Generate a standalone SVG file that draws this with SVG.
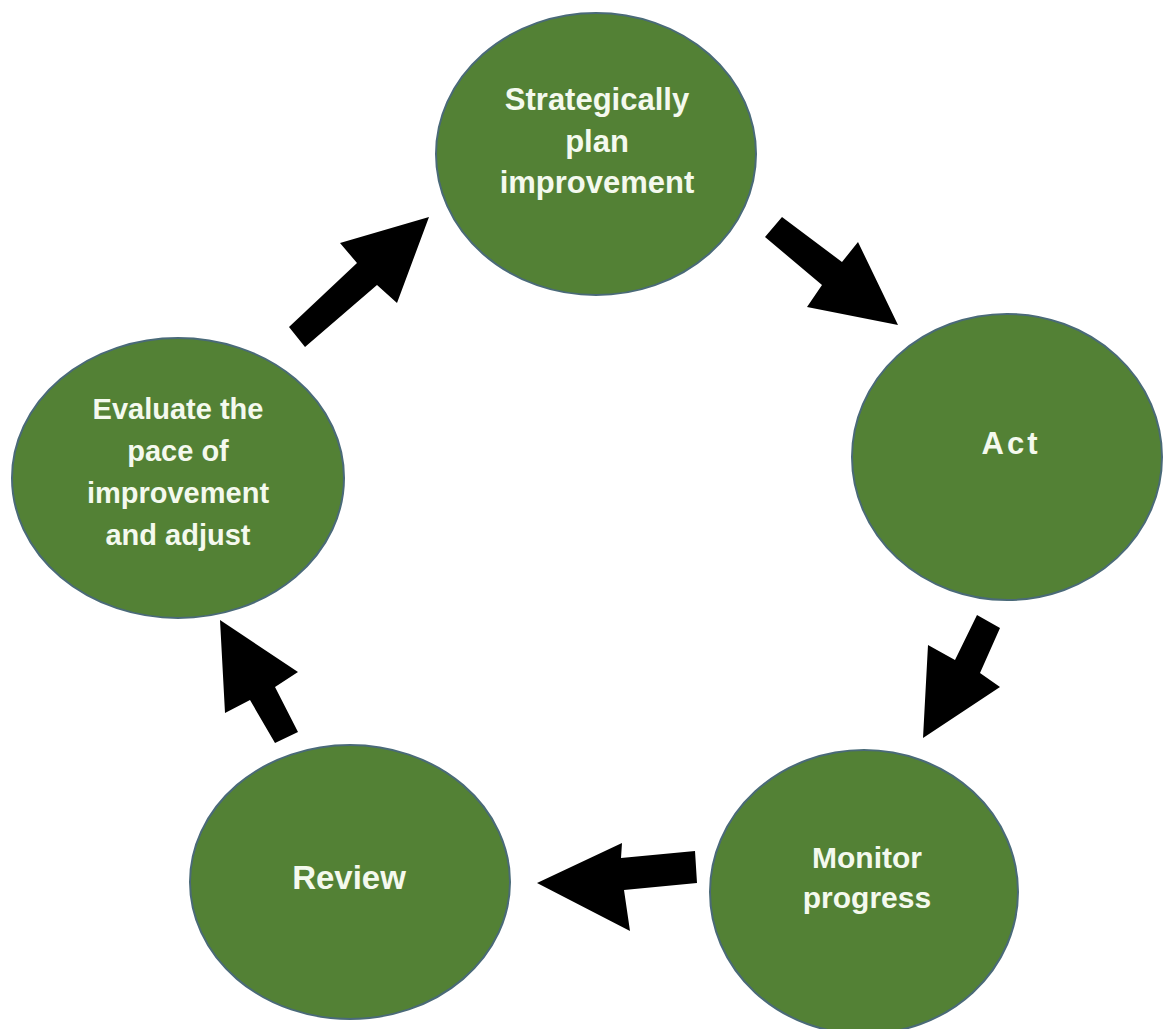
<svg xmlns="http://www.w3.org/2000/svg" width="1165" height="1029" viewBox="0 0 1165 1029">
<style>
.node{fill:#538135;stroke:#4a6a78;stroke-width:2}
.lbl{font-family:"Liberation Sans",Arial,sans-serif;font-weight:bold;fill:#f4f9ee;text-anchor:middle}
.arr{fill:#000}
</style>
<rect width="1165" height="1029" fill="#fff"/>
<g id="node-plan">
<ellipse class="node" cx="596" cy="154" rx="160" ry="141"/>
<text class="lbl" font-size="31"><tspan x="597" y="110">Strategically</tspan><tspan x="597" y="152">plan</tspan><tspan x="597" y="193">improvement</tspan></text>
</g>
<g id="node-act">
<ellipse class="node" cx="1007" cy="457" rx="155" ry="143"/>
<text class="lbl" font-size="31" letter-spacing="3" x="1011" y="454">Act</text>
</g>
<g id="node-monitor">
<ellipse class="node" cx="864" cy="892" rx="154" ry="142"/>
<text class="lbl" font-size="30"><tspan x="867" y="868">Monitor</tspan><tspan x="867" y="908">progress</tspan></text>
</g>
<g id="node-review">
<ellipse class="node" cx="350" cy="882" rx="160" ry="137"/>
<text class="lbl" font-size="33" x="349" y="889">Review</text>
</g>
<g id="node-evaluate">
<ellipse class="node" cx="178" cy="478" rx="166" ry="140"/>
<text class="lbl" font-size="29"><tspan x="178" y="419">Evaluate the</tspan><tspan x="178" y="461">pace of</tspan><tspan x="178" y="503">improvement</tspan><tspan x="178" y="545">and adjust</tspan></text>
</g>
<g id="connectors">
<polygon class="arr" points="289,327 357,263 340,243 429,217 397,303 377,285 305,347"/>
<polygon class="arr" points="782,217 842,262 858,242 898,325 807,307 822,285 765,237"/>
<polygon class="arr" points="977,615 1000,628 980,673 1000,687 923,738 928,645 955,660"/>
<polygon class="arr" points="695,851 621,858 622,843 537,883 630,931 624,890 697,883"/>
<polygon class="arr" points="298,732 275,687 298,672 220,620 225,713 250,700 275,743"/>
</g>
</svg>
